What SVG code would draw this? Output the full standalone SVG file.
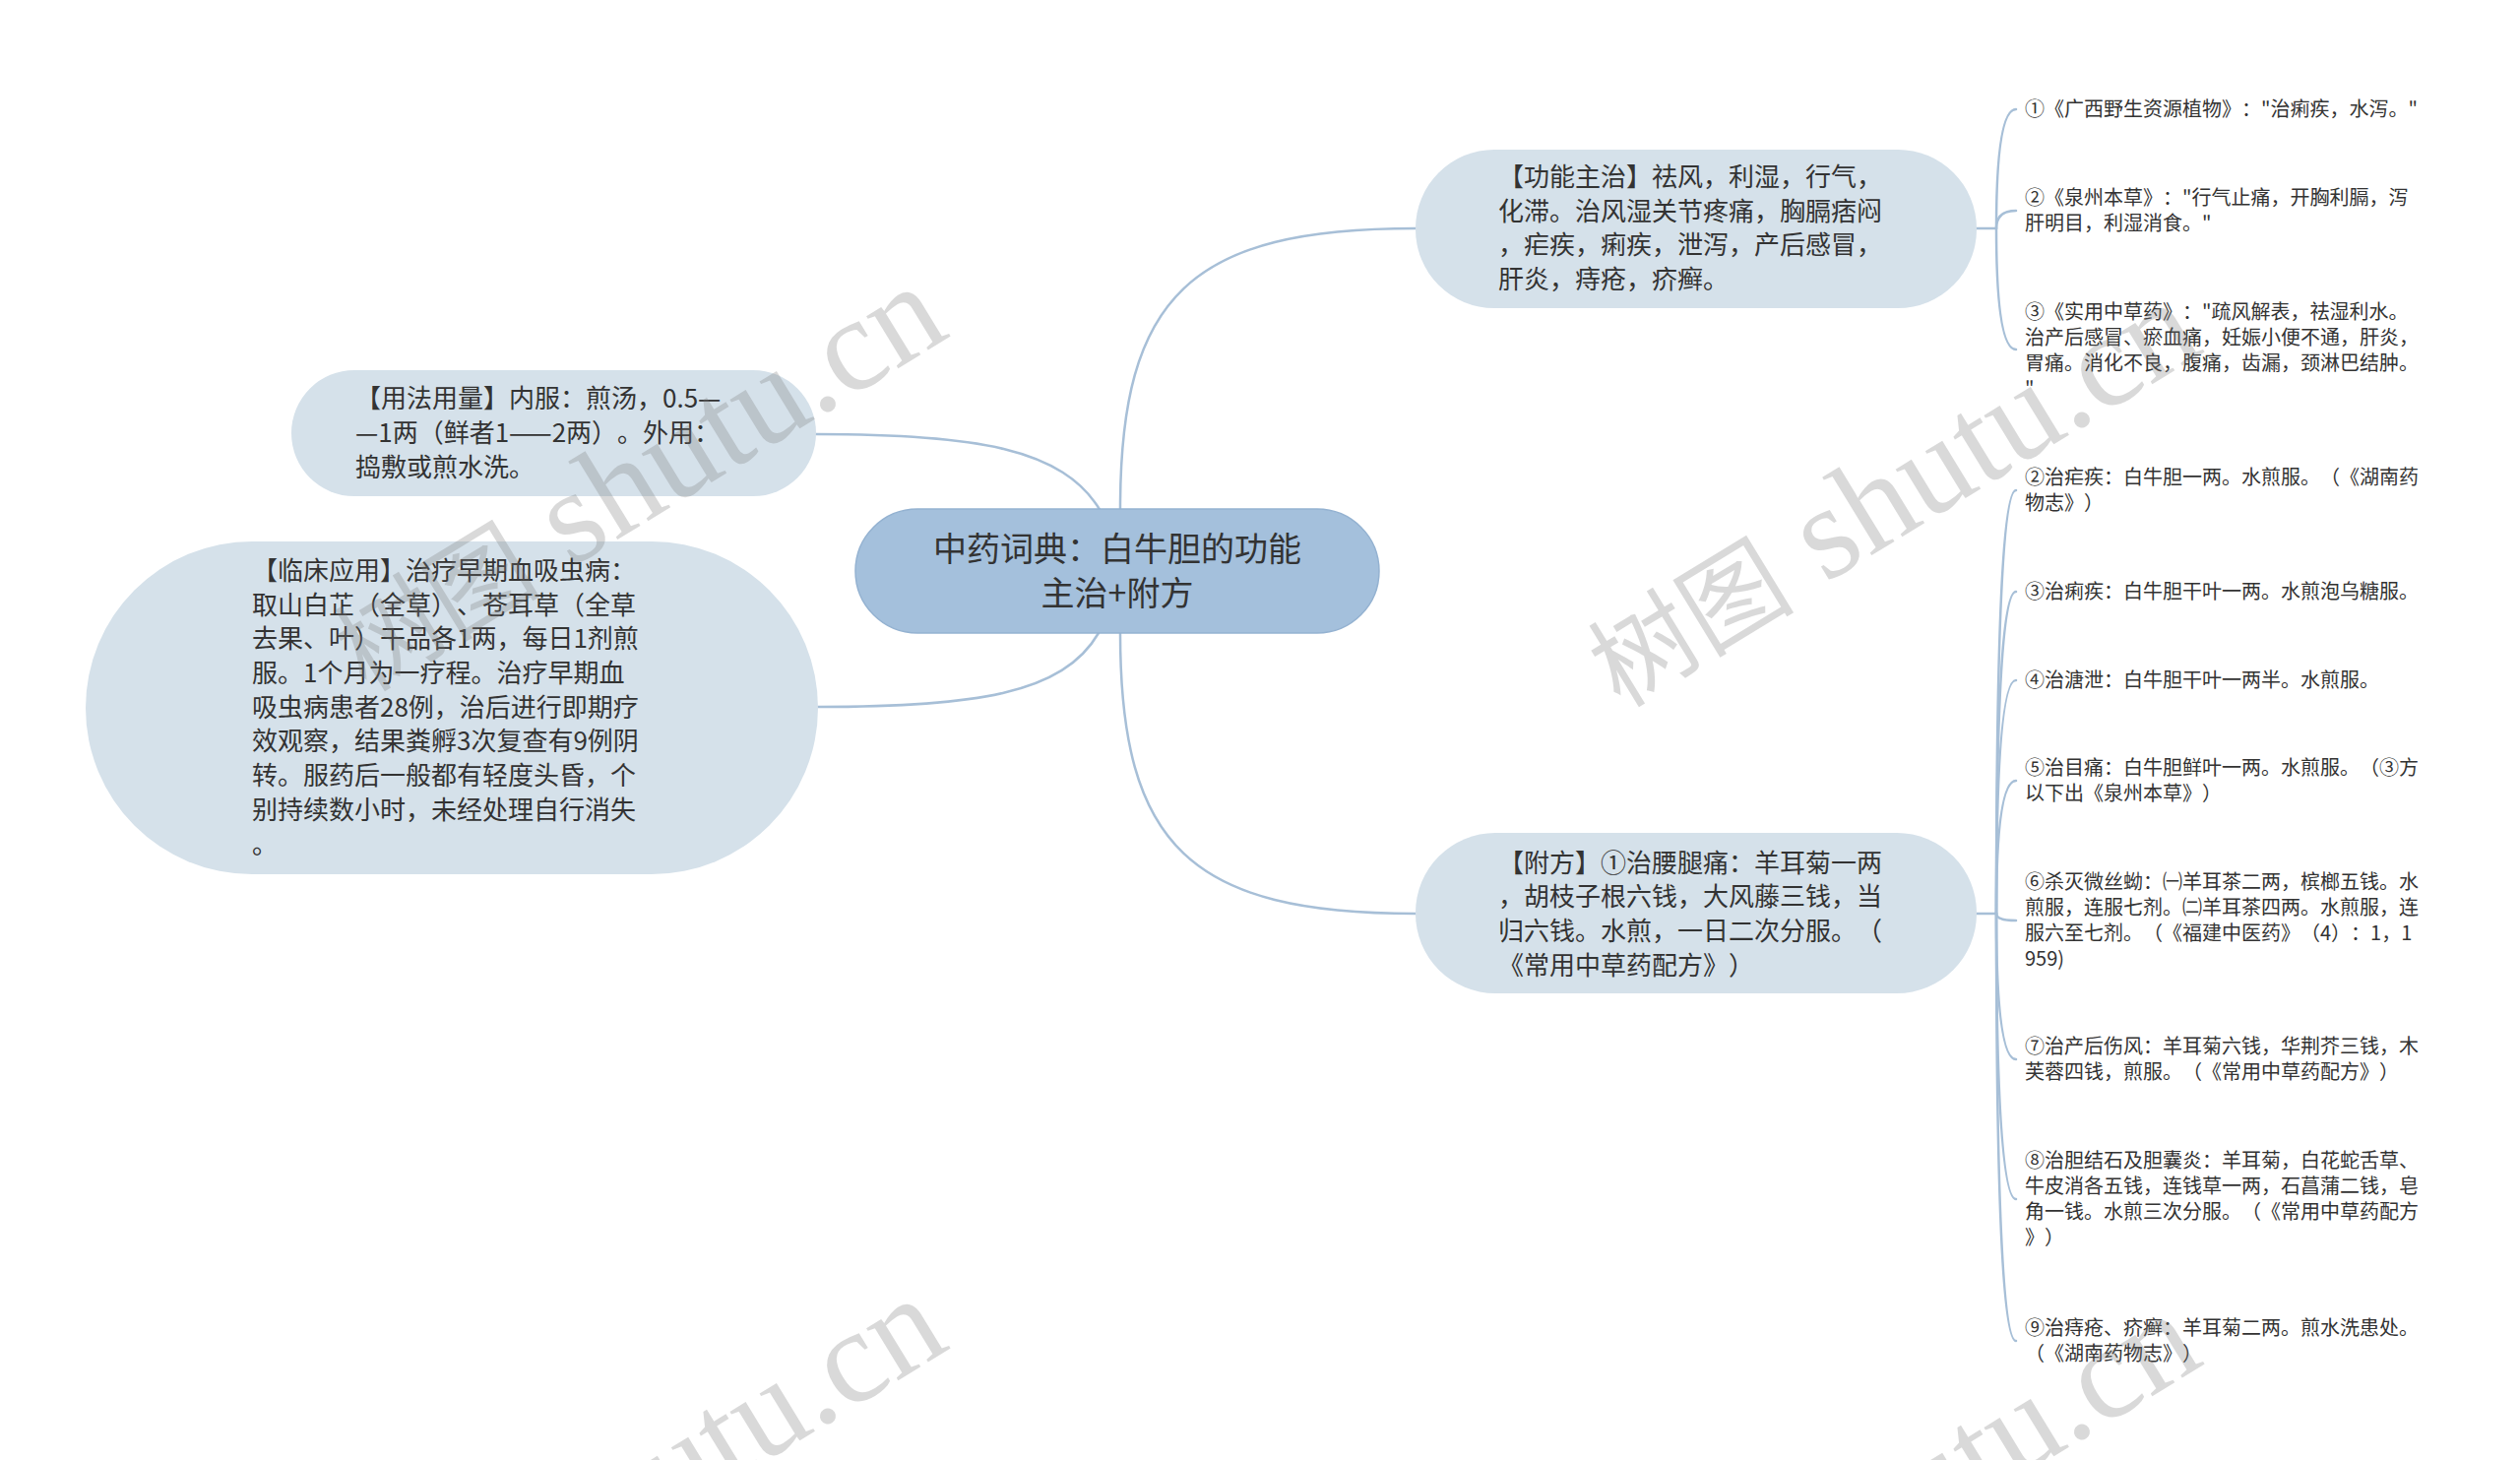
<svg xmlns="http://www.w3.org/2000/svg" width="2560" height="1483" viewBox="0 0 2560 1483">
<style>
.bg{fill:#ffffff}
.root{fill:#a4c0dc;stroke:#94b2d1;stroke-width:1.5}
.sub{fill:#d5e1ea}
.conn{fill:none;stroke:#a7bfd7;stroke-width:2.5;stroke-linecap:round}
.t{font-family:"Noto Sans CJK SC","Noto Sans",sans-serif;fill:#333333;text-spacing-trim:space-all}
.t34{font-size:34px}
.t26{font-size:26px}
.t20{font-size:20px}
.wm{font-family:"Liberation Serif","Noto Sans CJK SC",serif;font-size:135px;fill:#7a7a7a;opacity:0.28}
.wmc{font-family:"Noto Sans CJK SC",sans-serif;font-size:105px}
</style>
<rect class="bg" x="0" y="0" width="2560" height="1483"/>
<g id="connectors">
<path class="conn" d="M1138 517 C1138 300 1210 232 1438 232"/>
<path class="conn" d="M1138 643 C1138 860 1210 928 1438 928"/>
<path class="conn" d="M1118 519 C1080 455 990 441 829 441"/>
<path class="conn" d="M1116 643 C1080 705 990 718 831 718"/>
<path class="conn" d="M2008 232 H2028"/>
<path class="conn" d="M2028 232 Q2028 111 2048 111"/>
<path class="conn" d="M2028 232 Q2028 214 2048 214"/>
<path class="conn" d="M2028 232 Q2028 355 2048 355"/>
<path class="conn" d="M2008 928 H2028"/>
<path class="conn" d="M2028 928 Q2028 498 2048 498"/>
<path class="conn" d="M2028 928 Q2028 601 2048 601"/>
<path class="conn" d="M2028 928 Q2028 691 2048 691"/>
<path class="conn" d="M2028 928 Q2028 793 2048 793"/>
<path class="conn" d="M2028 928 Q2028 935 2048 935"/>
<path class="conn" d="M2028 928 Q2028 1076 2048 1076"/>
<path class="conn" d="M2028 928 Q2028 1218 2048 1218"/>
<path class="conn" d="M2028 928 Q2028 1362 2048 1362"/>
</g>
<g id="root">
<rect class="root" x="869" y="517" width="532" height="126" rx="63"/>
<text class="t t34" text-anchor="middle"><tspan x="1135" y="570">中药词典：白牛胆的功能</tspan><tspan x="1135" y="615">主治+附方</tspan></text>
</g>
<g id="node-gongneng">
<rect class="sub" x="1438" y="152" width="570" height="161" rx="80"/>
<text class="t t26"><tspan x="1522" y="189">【功能主治】祛风，利湿，行气，</tspan><tspan x="1522" y="224">化滞。治风湿关节疼痛，胸膈痞闷</tspan><tspan x="1522" y="258">，疟疾，痢疾，泄泻，产后感冒，</tspan><tspan x="1522" y="293">肝炎，痔疮，疥癣。</tspan></text>
</g>
<g id="node-fufang">
<rect class="sub" x="1438" y="846" width="570" height="163" rx="81"/>
<text class="t t26"><tspan x="1522" y="886">【附方】①治腰腿痛：羊耳菊一两</tspan><tspan x="1522" y="920">，胡枝子根六钱，大风藤三钱，当</tspan><tspan x="1522" y="955">归六钱。水煎，一日二次分服。（</tspan><tspan x="1522" y="990">《常用中草药配方》）</tspan></text>
</g>
<g id="node-yongfa">
<rect class="sub" x="296" y="376" width="533" height="128" rx="64"/>
<text class="t t26"><tspan x="361" y="414">【用法用量】内服：煎汤，0.5—</tspan><tspan x="361" y="449">—1两（鲜者1——2两）。外用：</tspan><tspan x="361" y="484">捣敷或煎水洗。</tspan></text>
</g>
<g id="node-linchuang">
<rect class="sub" x="87" y="550" width="744" height="338" rx="169"/>
<text class="t t26"><tspan x="256" y="589">【临床应用】治疗早期血吸虫病：</tspan><tspan x="256" y="624">取山白芷（全草）、苍耳草（全草</tspan><tspan x="256" y="658">去果、叶）干品各1两，每日1剂煎</tspan><tspan x="256" y="693">服。1个月为一疗程。治疗早期血</tspan><tspan x="256" y="728">吸虫病患者28例，治后进行即期疗</tspan><tspan x="256" y="762">效观察，结果粪孵3次复查有9例阴</tspan><tspan x="256" y="797">转。服药后一般都有轻度头昏，个</tspan><tspan x="256" y="832">别持续数小时，未经处理自行消失</tspan><tspan x="256" y="867">。</tspan></text>
</g>
<g id="leaf-a1"><text class="t t20"><tspan x="2057" y="118">①《广西野生资源植物》："治痢疾，水泻。"</tspan></text></g>
<g id="leaf-a2"><text class="t t20"><tspan x="2057" y="208">②《泉州本草》："行气止痛，开胸利膈，泻</tspan><tspan x="2057" y="234">肝明目，利湿消食。"</tspan></text></g>
<g id="leaf-a3"><text class="t t20"><tspan x="2057" y="324">③《实用中草药》："疏风解表，祛湿利水。</tspan><tspan x="2057" y="350">治产后感冒、瘀血痛，妊娠小便不通，肝炎，</tspan><tspan x="2057" y="376">胃痛。消化不良，腹痛，齿漏，颈淋巴结肿。</tspan><tspan x="2057" y="402">"</tspan></text></g>
<g id="leaf-b2"><text class="t t20"><tspan x="2057" y="492">②治疟疾：白牛胆一两。水煎服。（《湖南药</tspan><tspan x="2057" y="518">物志》）</tspan></text></g>
<g id="leaf-b3"><text class="t t20"><tspan x="2057" y="608">③治痢疾：白牛胆干叶一两。水煎泡乌糖服。</tspan></text></g>
<g id="leaf-b4"><text class="t t20"><tspan x="2057" y="698">④治溏泄：白牛胆干叶一两半。水煎服。</tspan></text></g>
<g id="leaf-b5"><text class="t t20"><tspan x="2057" y="787">⑤治目痛：白牛胆鲜叶一两。水煎服。（③方</tspan><tspan x="2057" y="813">以下出《泉州本草》）</tspan></text></g>
<g id="leaf-b6"><text class="t t20"><tspan x="2057" y="903">⑥杀灭微丝蚴：㈠羊耳茶二两，槟榔五钱。水</tspan><tspan x="2057" y="929">煎服，连服七剂。㈡羊耳茶四两。水煎服，连</tspan><tspan x="2057" y="955">服六至七剂。（《福建中医药》（4）：1，1</tspan><tspan x="2057" y="981">959)</tspan></text></g>
<g id="leaf-b7"><text class="t t20"><tspan x="2057" y="1070">⑦治产后伤风：羊耳菊六钱，华荆芥三钱，木</tspan><tspan x="2057" y="1096">芙蓉四钱，煎服。（《常用中草药配方》）</tspan></text></g>
<g id="leaf-b8"><text class="t t20"><tspan x="2057" y="1186">⑧治胆结石及胆囊炎：羊耳菊，白花蛇舌草、</tspan><tspan x="2057" y="1212">牛皮消各五钱，连钱草一两，石菖蒲二钱，皂</tspan><tspan x="2057" y="1238">角一钱。水煎三次分服。（《常用中草药配方</tspan><tspan x="2057" y="1264">》）</tspan></text></g>
<g id="leaf-b9"><text class="t t20"><tspan x="2057" y="1356">⑨治痔疮、疥癣：羊耳菊二两。煎水洗患处。</tspan><tspan x="2057" y="1382">（《湖南药物志》）</tspan></text></g>
<g id="watermarks">
<text class="wm" transform="translate(372 704) rotate(-31.4)"><tspan class="wmc">树图</tspan> shutu.cn</text>
<text class="wm" transform="translate(1646 720) rotate(-31.4)"><tspan class="wmc">树图</tspan> shutu.cn</text>
<text class="wm" transform="translate(372 1732) rotate(-31.4)"><tspan class="wmc">树图</tspan> shutu.cn</text>
<text class="wm" transform="translate(1646 1748) rotate(-31.4)"><tspan class="wmc">树图</tspan> shutu.cn</text>
</g>
</svg>
